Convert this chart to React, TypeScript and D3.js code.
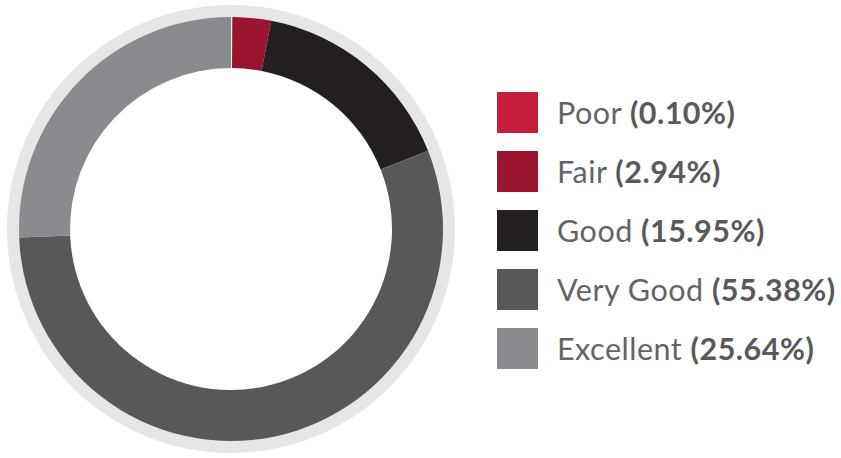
import React from "react";
import * as d3 from "d3";

const categories = ["Poor", "Fair", "Good", "Very Good", "Excellent"];
const values = [0.1, 2.94, 15.95, 55.38, 25.64];
const labels = ["0.10%", "2.94%", "15.95%", "55.38%", "25.64%"];
const colors = ["#c41e3a", "#9b1530", "#231f20", "#58585a", "#8a8b8e"];

const W = 841;
const H = 458;
const cx = 231;
const cy = 229;

export default function App() {
  const data = categories.map((c, i) => ({ name: c, value: values[i], label: labels[i], color: colors[i] }));
  const pie = d3.pie<any>().sort(null).value((d) => d.value).startAngle(0).endAngle(2 * Math.PI);
  const arcs = pie(data);
  const arc = d3.arc<any>().innerRadius(161).outerRadius(212);
  const ring = d3.arc<any>().innerRadius(205).outerRadius(224).startAngle(0).endAngle(2 * Math.PI);

  const legendY = d3.scaleBand<string>().domain(categories).range([92, 92 + 59 * 5]).paddingInner(0);

  return (
    <div style={{ position: "absolute", left: 0, top: 0, background: "#fff" }}>
      <svg width={W} height={H} style={{ display: "block" }}>
        <rect width={W} height={H} fill="#fff" />
        <g transform={`translate(${cx},${cy})`}>
          <path d={ring({}) || ""} fill="#e6e6e7" />
          {arcs.map((a, i) => (
            <path
              key={i}
              d={arc(a) || ""}
              fill={a.data.color}
              stroke={a.data.name === "Poor" ? "#f4f4f4" : "none"}
              strokeWidth={a.data.name === "Poor" ? 2 : 0}
            />
          ))}
        </g>
        <g fontFamily="Lato, 'Open Sans', sans-serif" fontSize={30.5} letterSpacing={0.5}>
          {data.map((d) => {
            const y = legendY(d.name)!;
            return (
              <g key={d.name}>
                <rect x={497} y={y} width={41} height={41} fill={d.color} />
                <text x={557} y={y + 32} fill="#636466">
                  <tspan>{d.name} </tspan>
                  <tspan fontWeight="bold" fill="#58595b">({d.label})</tspan>
                </text>
              </g>
            );
          })}
        </g>
      </svg>
    </div>
  );
}
